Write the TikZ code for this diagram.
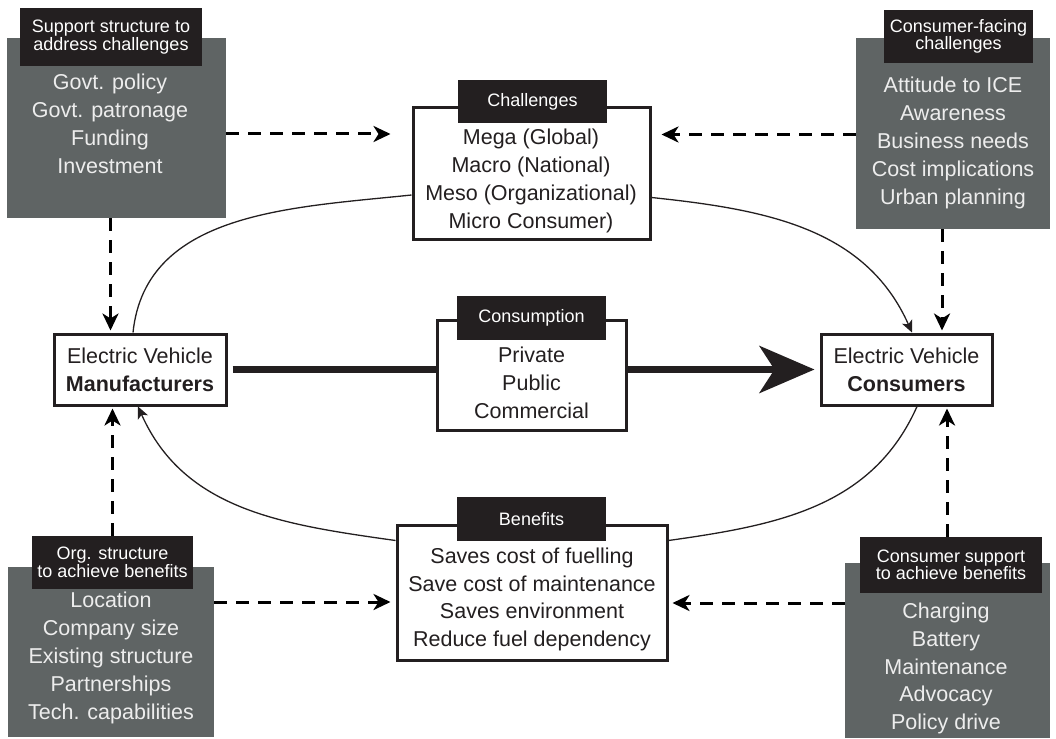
\documentclass[tikz,border=0pt]{standalone}
\usepackage{fontspec}
\setmainfont{Liberation Sans}
\usetikzlibrary{arrows.meta, positioning}

\definecolor{slate}{HTML}{5F6464}
\definecolor{ink}{HTML}{231F20}
\definecolor{paper}{HTML}{EDEDED}

\tikzset{
  graybox/.style={fill=slate, inner sep=0pt},
  framebox/.style={draw=ink, line width=3pt, fill=white, inner sep=0pt, align=center, text=ink,
    font=\fontsize{21.5}{28}\selectfont},
  tagbox/.style={fill=ink, text=white, align=center, inner sep=0pt, font=\fontsize{18}{17.5}\selectfont},
  items/.style={align=center, text=ink, font=\fontsize{21.5}{27.8}\selectfont},
  grayitems/.style={items, text=paper},
  dashy/.style={line width=3pt, dash pattern=on 13pt off 9pt, -{Stealth[length=17pt, width=16pt, inset=5pt]}},
  orbit/.style={line width=1.3pt, draw=ink},
  orbitarrow/.style={orbit, -{Stealth[length=12pt, width=11pt, inset=3pt]}}
}

\begin{document}
\begin{tikzpicture}[x=1pt, y=-1pt, >=Stealth]
    \useasboundingbox (0,0) rectangle (1056,738);

    % support and challenge panels
    \node[graybox, minimum width=219pt, minimum height=180pt] (suppbox) at (116.5,128) {};
    \node[grayitems] (supptext) at (110,124) {Govt. policy\\Govt. patronage\\Funding\\Investment};
    \node[tagbox, minimum width=182pt, minimum height=58pt] (supptag) at (111,37) {Support structure to\\address challenges};

    \node[graybox, minimum width=194pt, minimum height=191pt] (cfcbox) at (953,133.5) {};
    \node[grayitems] (cfctext) at (953,143) {Attitude to ICE\\Awareness\\Business needs\\Cost implications\\Urban planning};
    \node[tagbox, minimum width=149pt, minimum height=53pt] (cfctag) at (958.5,36.5) {Consumer-facing\\challenges};

    \node[graybox, minimum width=206pt, minimum height=170pt] (orgbox) at (111,652) {};
    \node[grayitems] (orgtext) at (111,658) {Location\\Company size\\Existing structure\\Partnerships\\Tech. capabilities};
    \node[tagbox, minimum width=161pt, minimum height=53pt] (orgtag) at (112.5,562.5) {Org. structure\\to achieve benefits};

    \node[graybox, minimum width=205pt, minimum height=175pt] (csubox) at (947.5,650.5) {};
    \node[grayitems] (csutext) at (946,668.5) {Charging\\Battery\\Maintenance\\Advocacy\\Policy drive};
    \node[tagbox, minimum width=182pt, minimum height=56pt] (csutag) at (951,565) {Consumer support\\to achieve benefits};

    % actors
    \node[framebox, minimum width=172pt, minimum height=71pt] (mfr) at (140,369.5) {Electric Vehicle\\\textbf{Manufacturers}};
    \node[framebox, minimum width=171pt, minimum height=71pt] (cons) at (906.5,369.5) {Electric Vehicle\\\textbf{Consumers}};
    \draw[line width=7pt, draw=ink, -{Stealth[length=55pt, width=47pt, inset=15pt]}, shorten <=5pt, shorten >=5pt] (mfr) -- (cons);

    % middle boxes
    \node[framebox, minimum width=237pt, minimum height=131pt] (chal) at (531.5,173.5) {};
    \node[items] (chaltext) at (531,181) {Mega (Global)\\Macro (National)\\Meso (Organizational)\\Micro Consumer)};
    \node[tagbox, minimum width=149pt, minimum height=43pt] (chaltag) at (532.5,101.5) {Challenges};

    \node[framebox, minimum width=189pt, minimum height=110pt] (use) at (531.5,375) {};
    \node[items] (usetext) at (531.5,383) {Private\\Public\\Commercial};
    \node[tagbox, minimum width=149pt, minimum height=44pt] (usetag) at (531.5,318) {Consumption};

    \node[framebox, minimum width=270pt, minimum height=135pt] (bene) at (532,592.5) {};
    \node[items] (benetext) at (532,599.5) {Saves cost of fuelling\\Save cost of maintenance\\Saves environment\\Reduce fuel dependency};
    \node[tagbox, minimum width=149pt, minimum height=44pt] (benetag) at (531.5,519) {Benefits};

    % dashed feeds
    \draw[dashy, shorten >=21pt] ([yshift=-6pt]suppbox.east) -- ([yshift=-6pt]suppbox.east -| chal.west);
    \draw[dashy, shorten >=10pt] ([yshift=-1pt]cfcbox.west) -- ([yshift=-1pt]cfcbox.west -| chal.east);
    \draw[dashy, shorten >=2pt] ([xshift=-6pt]suppbox.south) -- ([xshift=-6pt]suppbox.south |- mfr.north);
    \draw[dashy, shorten >=2pt] ([xshift=-11pt]cfcbox.south) -- ([xshift=-11pt]cfcbox.south |- cons.north);
    \draw[dashy, shorten >=2pt] (orgtag.north) -- (orgtag.north |- mfr.south);
    \draw[dashy, shorten >=2pt] ([xshift=-4pt]csutag.north) -- ([xshift=-4pt]csutag.north |- cons.south);
    \draw[dashy, shorten >=5pt] ([yshift=50pt]orgbox.east) -- ([yshift=50pt]orgbox.east -| bene.west);
    \draw[dashy, shorten >=4pt] ([yshift=47.5pt]csubox.west) -- ([yshift=47.5pt]csubox.west -| bene.east);

    % the loop
    \draw[orbit] ([xshift=-7pt]mfr.north) to[out=84, in=186] ([yshift=-21.5pt]chal.west);
    \draw[orbitarrow] ([yshift=-24pt]chal.east) to[out=-6, in=114] ([xshift=5.5pt]cons.north);
    \draw[orbit] ([xshift=10.5pt]cons.south) to[out=-114, in=8] ([yshift=52pt]bene.east);
    \draw[orbitarrow] ([yshift=52pt]bene.west) to[out=172, in=-66] ([xshift=-2pt]mfr.south);
\end{tikzpicture}
\end{document}
